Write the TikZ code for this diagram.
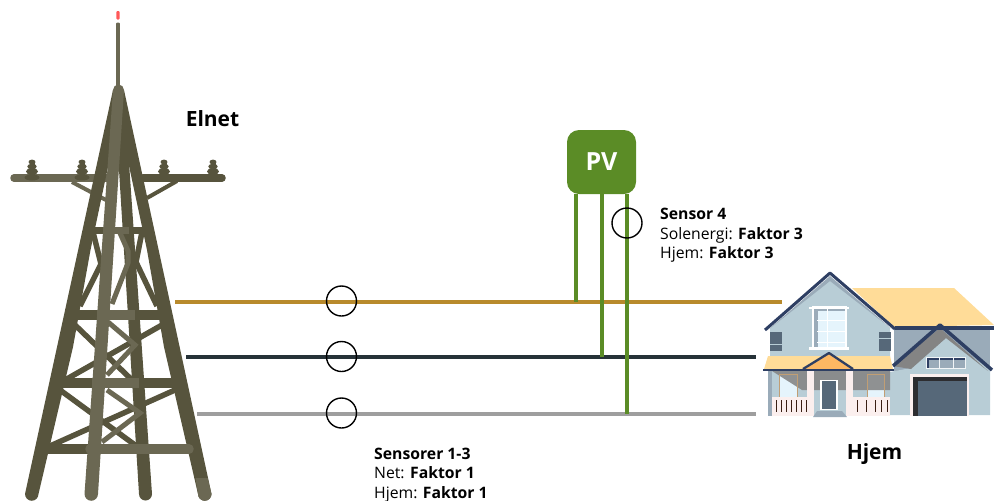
\documentclass[tikz,border=0pt]{standalone}
\usepackage{fontspec}
\setmainfont{Open Sans}
\definecolor{tdark}{HTML}{57543D}
\definecolor{tlight}{HTML}{6B6853}
\definecolor{gold}{HTML}{B88A2C}
\definecolor{blk}{HTML}{263238}
\definecolor{gry}{HTML}{9E9E9E}
\definecolor{pvg}{HTML}{5B8C26}
\definecolor{navy}{HTML}{2E3F63}
\definecolor{wall}{HTML}{B8CDD6}
\definecolor{wallb}{HTML}{9AABB9}
\definecolor{sand}{HTML}{FFDC98}
\definecolor{orng}{HTML}{FDB863}
\definecolor{slate}{HTML}{566879}
\definecolor{blush}{HTML}{FBEFEE}
\definecolor{glass}{HTML}{E5F4FC}
\definecolor{greyshadow}{HTML}{848484}
\definecolor{rail}{HTML}{3A1F14}
\tikzset{
  powerline/.style={line width=4pt},
  feed/.style={line width=4pt,pvg},
  sensor/.style={circle,draw=black,line width=1.4pt,minimum size=30pt,inner sep=0pt},
  pvbox/.style={fill=pvg,rounded corners=12pt,minimum width=69pt,minimum height=64pt,text=white,font=\bfseries\fontsize{25}{25}\selectfont},
  info/.style={align=left,anchor=north west,inner sep=0pt,font=\fontsize{15.75}{19.6}\selectfont},
  title/.style={anchor=center,inner sep=0pt,font=\bfseries\fontsize{21}{24}\selectfont},
  bar/.style={line width=#1,tdark},
  barl/.style={line width=#1,tlight},
  ins/.style={tdark}
}
\begin{document}
\begin{tikzpicture}[x=1pt,y=-1pt]
\useasboundingbox (0,0) rectangle (994,501);
% ---------- tower ----------
\fill[red!65!white,rounded corners=1pt] (116.3,11) rectangle (119.7,19.5);
\fill[tlight,rounded corners=1pt] (116.2,22.5) rectangle (119.8,90);
% back leg
\fill[tdark] (115,105) -- (125,105) -- (152,494) arc[start angle=0,end angle=180,radius=6.5] -- cycle;
% bracing behind
\draw[bar=5.5pt] (75,325) -- (132,380);
\draw[bar=5.5pt] (162,325) -- (65,380);
\draw[bar=5.5pt] (60,390) -- (135,445);
\draw[bar=5.5pt] (175,390) -- (50,446);
\draw[bar=5.5pt] (80,306) -- (101,264) -- (93,232);
\draw[bar=5.5pt] (157,306) -- (136,262) -- (142,232);
\draw[bar=7pt] (93,230) -- (145,230);
\draw[bar=10pt] (76,315) -- (164,315);
\draw[bar=9.5pt] (60,383) -- (178,383);
\draw[bar=9.5pt] (47,449) -- (192,449);
% cross arm
\draw[barl=7.5pt,line cap=round] (14,178) -- (107,178);
\draw[bar=7.5pt,line cap=round] (143,178) -- (222,178);
\draw[barl=4pt] (72,182) -- (106,200);
\draw[bar=4pt] (177,181) -- (147,198);
% insulators
\foreach \x in {32,82,164,213}{
  \fill[ins] (\x,177.5) ellipse (7.5 and 3);
  \fill[ins] (\x,171.5) ellipse (6 and 3.5);
  \fill[ins] (\x,166.5) ellipse (4.7 and 2.8);
  \fill[ins] (\x,162) ellipse (3.5 and 2.4);
  \fill[ins] (\x-2.5,161) rectangle (\x+2.5,176);
}
% outer legs
\fill[tdark] (113,90) -- (25,494) arc[start angle=180,end angle=0,radius=6.75] -- (73,347) -- (90.5,250) -- (121,105) -- cycle;
\fill[tdark] (124,90) -- (211.5,494) arc[start angle=0,end angle=180,radius=6.75] -- (164,347) -- (147,250) -- (116,105) -- cycle;
\fill[tlight] (195.5,478) -- (207.7,478) -- (211.5,494) arc[start angle=0,end angle=180,radius=6.75] -- cycle;
% front leg
\fill[tlight] (113,90) arc[start angle=180,end angle=360,radius=5.5] -- (98,494) arc[start angle=0,end angle=180,radius=6.75] -- cycle;
% front bars and bracing
\draw[barl=7pt] (103,230) -- (128.5,230);
\draw[barl=10pt] (97,315) -- (135,315);
\draw[barl=9.5pt] (92,383) -- (139,383);
\draw[barl=9.5pt,line cap=round] (90,449) -- (189,449);
\draw[barl=5pt] (120,233) -- (128,251) -- (128,263) -- (112,304);
\draw[barl=5pt] (108,322) -- (135,345) -- (107,375);
\draw[barl=5pt] (107,390) -- (140,413) -- (102,442);
% ---------- house ----------
\fill[sand] (852,288) -- (954,288) -- (994,325) -- (894,327) -- cycle;
\fill[wallb] (894,328) rectangle (990,372);
\fill[wall] (770,328) -- (830,279) -- (890,328) -- (890,415) -- (770,415) -- cycle;
\fill[wall] (890,372) -- (890,415) -- (990,415) -- (990,370) -- (946,338) -- (911,368) -- cycle;
\fill[greyshadow] (940,328) -- (893,366) -- (911,369) -- (946,338) -- (988,371) -- cycle;
\fill[wallb] (768,330) -- (830,276) -- (893,330) -- (830,281) -- cycle;
\draw[navy,line width=3pt,line join=round] (765,330) -- (830,273) -- (895,329);
\draw[navy,line width=3.5pt] (895,328) -- (994,328);
\draw[navy,line width=3.5pt,line join=round] (893,366) -- (940,325) -- (992,370);
% gable window
\fill[white] (812,306) rectangle (847,350);
\fill[glass] (814,309) rectangle (845,348);
\fill[wallb] (814,309) rectangle (817.5,348);
\fill[wallb] (814,309) rectangle (845,311);
\draw[white,line width=1pt] (827,309) -- (827,348) (817,320) -- (845,320) (817,331) -- (845,331) (817,342) -- (845,342);
\fill[white] (809,306.5) rectangle (849,309);
\fill[white] (809,347) rectangle (849,350);
% side shutters
\fill[slate] (770,332) rectangle (782,351);
\fill[slate] (879,332) rectangle (891,351);
\draw[wall,line width=1pt] (770,344) -- (782,344) (879,338) -- (891,338);
% right small window
\fill[wallb] (926,357) rectangle (965,368);
\draw[navy,line width=2pt] (926,359) -- (965,359);
\fill[navy] (926,358) rectangle (928.5,368);
\draw[white!80!wall,line width=1pt] (926,357) rectangle (965,368) (939,357) -- (939,368) (953,357) -- (953,368);
% porch body
\fill[glass] (779,374) rectangle (797,397);
\fill[glass] (867,374) rectangle (884,397);
\fill[greyshadow,opacity=.88] (772,371) -- (890,371) -- (890,390) -- (802,390) -- cycle;
\fill[wallb] (768,371) rectangle (772,416);
\draw[orng!50!greyshadow,line width=.8pt] (779,374) rectangle (797,397) (867,374) rectangle (884,397);
% porch roof
\fill[sand] (768,356) -- (890,356) -- (893,369) -- (764,369) -- cycle;
\fill[orng] (805,369) -- (829,353) -- (853,369) -- cycle;
\draw[navy,line width=2.7pt] (763,370) -- (894,370);
\draw[navy,line width=2.3pt,line join=round] (803,369) -- (829,353) -- (853,369);
% pillars, door, rails
\fill[blush] (807,371) rectangle (814,416);
\fill[blush] (846,371) rectangle (853,416);
\fill[blush] (772,397) rectangle (814,416);
\fill[blush] (846,397) rectangle (890,416);
\fill[white] (820,380) rectangle (838,410);
\fill[slate] (822,381) rectangle (836,409);
\fill[wallb] (813,417) -- (817,411) -- (842,411) -- (847,417) -- cycle;
\foreach \x in {776,781,786,791,796,801,806}{\draw[rail,line width=1pt] (\x,400) -- (\x,412);}
\foreach \x in {857,866,875,881,887}{\draw[rail,line width=1pt] (\x,400) -- (\x,412);}
% garage
\fill[blush] (910,374) rectangle (969,416);
\fill[rail!40!slate!60!black] (913,377) rectangle (967,416);
\fill[slate] (918,381) rectangle (967,416);
% ---------- diagram ----------
\coordinate (g0) at (175,302);
\coordinate (g1) at (782,302);
\coordinate (b0) at (186,357);
\coordinate (b1) at (756,357);
\coordinate (s0) at (197,414);
\coordinate (s1) at (756,414);
\coordinate (f1) at (576,302);
\coordinate (f2) at (602,357);
\coordinate (f3) at (627,414);
\draw[powerline,gold] (g0) -- (g1);
\draw[powerline,blk] (b0) -- (b1);
\draw[powerline,gry] (s0) -- (s1);
\node[pvbox] (pv) at (601.5,162) {\raisebox{-2.5pt}{PV}};
\draw[feed] (pv.south -| f1) -- (f1);
\draw[feed] (pv.south -| f2) -- (f2);
\draw[feed] (pv.south -| f3) -- (f3);
\node[sensor] (c1) at (341.5,301) {};
\node[sensor] (c2) at (341.5,356.5) {};
\node[sensor] (c3) at (341.5,413) {};
\node[sensor] (c4) at (627,223) {};
\node[title] (elnet) at (212.5,119) {Elnet};
\node[title] (hjem) at (874.5,454.5) {Hjem};
\node[info] (t4) at (660,208) {\textbf{Sensor 4}\\Solenergi: \textbf{Faktor 3}\\Hjem: \textbf{Faktor 3}};
\node[info] (t1) at (374,447.5) {\textbf{Sensorer 1-3}\\Net: \textbf{Faktor 1}\\Hjem: \textbf{Faktor 1}};
\end{tikzpicture}
\end{document}
